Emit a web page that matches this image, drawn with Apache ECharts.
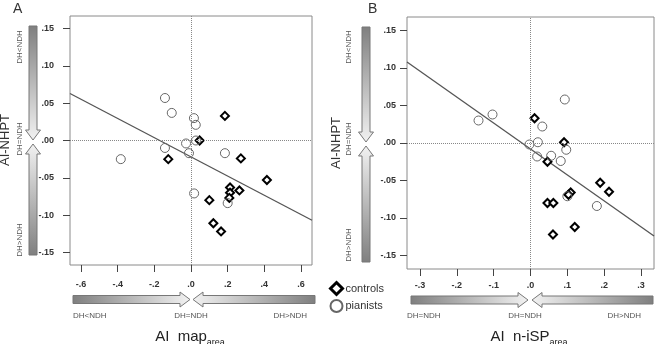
<!DOCTYPE html>
<html>
<head>
<meta charset="utf-8">
<script src="https://cdn.jsdelivr.net/npm/echarts@6/dist/echarts.min.js"></script>
<style>
  html, body { margin: 0; padding: 0; background: #fff; }
  #chart { width: 658px; height: 344px; }
</style>
</head>
<body>
<div id="chart"></div>
<script>
// panel A: AI map_area vs AI-NHPT
let aCtrlX = [0.185, 0.047, -0.124, 0.272, 0.414, 0.213, 0.264, 0.213, 0.209, 0.100, 0.122, 0.164];
let aCtrlY = [0.033, 0.000, -0.025, -0.024, -0.053, -0.063, -0.067, -0.070, -0.077, -0.080, -0.111, -0.122];
let aPianX = [-0.142, -0.105, 0.016, 0.026, 0.027, -0.027, -0.142, -0.011, 0.185, -0.383, 0.017, 0.200];
let aPianY = [0.057, 0.037, 0.030, 0.021, 0.000, -0.004, -0.010, -0.017, -0.017, -0.025, -0.071, -0.084];
let aFitX = [-0.66, 0.66];
let aFitY = [0.063, -0.107];

// panel B: AI n-iSP_area vs AI-NHPT
let bCtrlX = [0.011, 0.091, 0.046, 0.189, 0.213, 0.109, 0.103, 0.046, 0.062, 0.120, 0.061];
let bCtrlY = [0.033, 0.001, -0.025, -0.053, -0.065, -0.066, -0.069, -0.080, -0.080, -0.112, -0.122];
let bPianX = [0.093, -0.141, -0.103, 0.032, 0.020, -0.003, 0.097, 0.018, 0.056, 0.082, 0.100, 0.180];
let bPianY = [0.058, 0.030, 0.038, 0.022, 0.001, -0.002, -0.009, -0.018, -0.017, -0.024, -0.071, -0.084];
let bFitX = [-0.335, 0.335];
let bFitY = [0.108, -0.124];

let yTicks = [-0.15, -0.10, -0.05, 0, 0.05, 0.10, 0.15];
let yTickLabels = ['-.15', '-.10', '-.05', '.00', '.05', '.10', '.15'];
let aXTicks = [-0.6, -0.4, -0.2, 0, 0.2, 0.4, 0.6];
let aXTickLabels = ['-.6', '-.4', '-.2', '.0', '.2', '.4', '.6'];
let bXTicks = [-0.3, -0.2, -0.1, 0, 0.1, 0.2, 0.3];
let bXTickLabels = ['-.3', '-.2', '-.1', '.0', '.1', '.2', '.3'];

let font = '"Liberation Sans", Arial, sans-serif';
let dark = '#7f7f7f', light = '#f2f2f2';

function zip(xs, ys) {
  return xs.map((x, i) => [x, ys[i]]);
}

function axis(grid, min, max, ticks, labels, margin) {
  return {
    type: 'value',
    gridIndex: grid,
    min: min,
    max: max,
    axisLine: { show: false, onZero: false },
    splitLine: { show: false },
    axisTick: {
      show: true,
      length: 7,
      customValues: ticks,
      lineStyle: { color: '#444', width: 1 }
    },
    axisLabel: {
      customValues: ticks,
      margin: margin,
      fontSize: 9,
      fontWeight: 'bold',
      fontFamily: font,
      color: '#333',
      formatter: function(v) {
        let i = ticks.findIndex(t => Math.abs(t - v) < 1e-9);
        return i < 0 ? '' : labels[i];
      }
    }
  };
}

function fitLine(grid, xs, ys) {
  return {
    type: 'line',
    xAxisIndex: grid,
    yAxisIndex: grid,
    data: zip(xs, ys),
    symbol: 'none',
    silent: true,
    z: 2,
    lineStyle: { color: '#555', width: 1.3 },
    markLine: {
      silent: true,
      symbol: ['none', 'none'],
      label: { show: false },
      lineStyle: { color: '#888', type: 'dotted', width: 1 },
      data: [{ xAxis: 0 }, { yAxis: 0 }]
    }
  };
}

function controls(grid, xs, ys) {
  return {
    type: 'scatter',
    name: 'controls',
    xAxisIndex: grid,
    yAxisIndex: grid,
    data: zip(xs, ys),
    symbol: 'diamond',
    symbolSize: 8,
    z: 3,
    itemStyle: { color: '#fff', borderColor: '#000', borderWidth: 2, opacity: 1 }
  };
}

function pianists(grid, xs, ys) {
  return {
    type: 'scatter',
    name: 'pianists',
    xAxisIndex: grid,
    yAxisIndex: grid,
    data: zip(xs, ys),
    symbol: 'circle',
    symbolSize: 9,
    z: 4,
    itemStyle: { color: 'rgba(255,255,255,0)', borderColor: '#666', borderWidth: 1, opacity: 1 }
  };
}

// block arrow with a grey fade, dark at the tail
function arrow(tail, tip, c, vertical) {
  let dir = tip > tail ? 1 : -1;
  let neck = tip - dir * 10;
  let pts = [[tail, c - 4], [neck, c - 4], [neck, c - 7.5], [tip, c], [neck, c + 7.5], [neck, c + 4], [tail, c + 4]];
  if (vertical) pts = pts.map(p => [p[1], p[0]]);
  let g0 = dir > 0 ? 0 : 1;
  let stops = [{ offset: 0, color: dark }, { offset: 1, color: light }];
  let grad = vertical
    ? new echarts.graphic.LinearGradient(0, g0, 0, 1 - g0, stops)
    : new echarts.graphic.LinearGradient(g0, 0, 1 - g0, 0, stops);
  return {
    type: 'polygon',
    silent: true,
    shape: { points: pts },
    style: { fill: grad, stroke: '#777', lineWidth: 1 }
  };
}

function text(x, y, str, size, opts) {
  opts = opts || {};
  return {
    type: 'text',
    silent: true,
    x: x,
    y: y,
    rotation: opts.rotate ? Math.PI / 2 : 0,
    style: {
      text: str,
      fontSize: size,
      fontFamily: font,
      fill: opts.color || '#333',
      align: opts.align || 'center',
      verticalAlign: 'middle'
    }
  };
}

function subTitle(x, y, main, sub) {
  return {
    type: 'text',
    silent: true,
    x: x,
    y: y,
    style: {
      text: '{a|' + main + '}{s|' + sub + '}',
      align: 'center',
      verticalAlign: 'middle',
      rich: {
        a: { fontSize: 15, fontFamily: font, fill: '#222', lineHeight: 18, verticalAlign: 'top' },
        s: { fontSize: 9, fontFamily: font, fill: '#222', lineHeight: 9, verticalAlign: 'bottom' }
      }
    }
  };
}

let graphics = [
  // panel A
  text(13, 9, 'A', 14, { align: 'left' }),
  text(5, 140, 'AI-NHPT', 13, { rotate: true }),
  arrow(26, 140, 33, true),
  arrow(255, 144, 33, true),
  text(20, 47, 'DH<NDH', 8, { rotate: true, color: '#555' }),
  text(20, 139, 'DH=NDH', 8, { rotate: true, color: '#555' }),
  text(20, 240, 'DH>NDH', 8, { rotate: true, color: '#555' }),
  arrow(73, 190, 299.5, false),
  arrow(315, 193, 299.5, false),
  text(73, 316, 'DH<NDH', 8, { align: 'left', color: '#555' }),
  text(191, 316, 'DH=NDH', 8, { color: '#555' }),
  text(307, 316, 'DH>NDH', 8, { align: 'right', color: '#555' }),
  subTitle(190, 338, 'AI  map', 'area'),
  // panel B
  text(368, 9, 'B', 14, { align: 'left' }),
  text(336, 143, 'AI-NHPT', 13, { rotate: true }),
  arrow(27, 142, 366, true),
  arrow(262, 146, 366, true),
  text(349, 47, 'DH<NDH', 8, { rotate: true, color: '#555' }),
  text(349, 139, 'DH=NDH', 8, { rotate: true, color: '#555' }),
  text(349, 245, 'DH>NDH', 8, { rotate: true, color: '#555' }),
  arrow(411, 528, 300, false),
  arrow(653, 532, 300, false),
  text(407, 316, 'DH=NDH', 8, { align: 'left', color: '#555' }),
  text(525, 316, 'DH=NDH', 8, { color: '#555' }),
  text(641, 316, 'DH>NDH', 8, { align: 'right', color: '#555' }),
  subTitle(529, 338, 'AI  n-iSP', 'area')
];

let option = {
  animation: false,
  grid: [
    { left: 70, top: 16, width: 242, height: 249, show: true, borderColor: '#8a8a8a', borderWidth: 1 },
    { left: 407, top: 17, width: 247, height: 252, show: true, borderColor: '#8a8a8a', borderWidth: 1 }
  ],
  xAxis: [
    axis(0, -0.66, 0.66, aXTicks, aXTickLabels, 15),
    axis(1, -0.335, 0.335, bXTicks, bXTickLabels, 12)
  ],
  yAxis: [
    axis(0, -0.167, 0.167, yTicks, yTickLabels, 16),
    axis(1, -0.168, 0.168, yTicks, yTickLabels, 11)
  ],
  legend: {
    data: [
      { name: 'controls', itemStyle: { borderWidth: 3 } },
      { name: 'pianists' }
    ],
    orient: 'vertical',
    left: 329,
    top: 281,
    padding: 0,
    itemWidth: 12,
    itemHeight: 12,
    itemGap: 3,
    selectedMode: false,
    textStyle: { fontSize: 11, fontFamily: font, color: '#333', padding: [0, 0, 0, -2] }
  },
  graphic: graphics,
  series: [
    fitLine(0, aFitX, aFitY),
    controls(0, aCtrlX, aCtrlY),
    pianists(0, aPianX, aPianY),
    fitLine(1, bFitX, bFitY),
    controls(1, bCtrlX, bCtrlY),
    pianists(1, bPianX, bPianY)
  ]
};

let chart = echarts.init(document.getElementById('chart'));
chart.setOption(option);
</script>
</body>
</html>
